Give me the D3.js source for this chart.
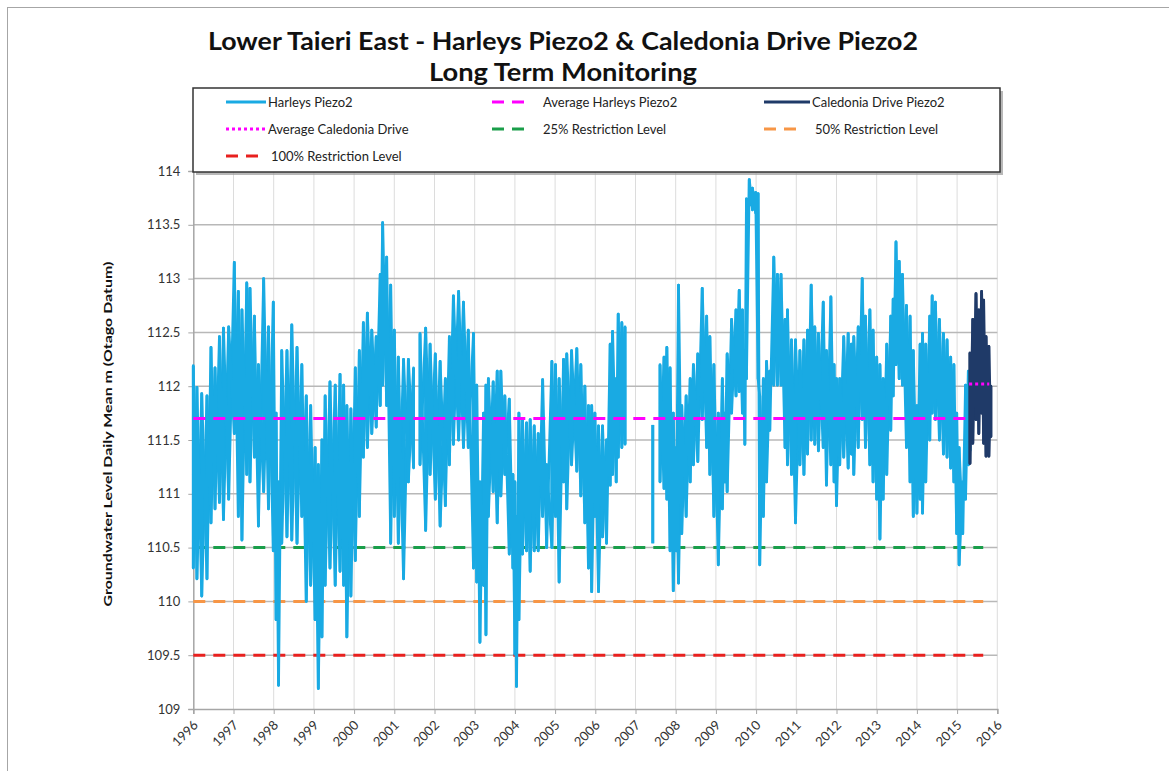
<!DOCTYPE html>
<html>
<head>
<meta charset="utf-8">
<script src="https://cdn.jsdelivr.net/npm/d3@7"></script>
<style>
  body { margin: 0; background: #fff; }
  text { font-family: Lato, "Open Sans", sans-serif; }
</style>
</head>
<body>
<div id="chart"></div>
<script>
'use strict';

var harleysYear = [
  1996.00, 1996.09, 1996.21, 1996.34, 1996.44, 1996.54, 1996.65, 1996.75, 1996.88,
  1997.02, 1997.12, 1997.21, 1997.33, 1997.41, 1997.52, 1997.62, 1997.75, 1997.87, 1997.99,
  1998.06, 1998.12, 1998.20, 1998.33, 1998.45, 1998.58, 1998.70, 1998.81, 1998.92,
  1999.03, 1999.11, 1999.20, 1999.28, 1999.40, 1999.53, 1999.65, 1999.74, 1999.82, 1999.92,
  2000.03, 2000.13, 2000.23, 2000.33, 2000.44, 2000.55, 2000.65, 2000.71, 2000.81, 2000.91,
  2001.00, 2001.10, 2001.23, 2001.35, 2001.48, 2001.64, 2001.78, 2001.89,
  2002.02, 2002.14, 2002.27, 2002.37, 2002.47, 2002.60, 2002.72, 2002.84, 2002.97,
  2003.05, 2003.13, 2003.22, 2003.28, 2003.34, 2003.46, 2003.56, 2003.65, 2003.75, 2003.86, 2003.95,
  2004.00, 2004.04, 2004.10, 2004.19, 2004.29, 2004.38, 2004.48, 2004.58, 2004.69, 2004.79, 2004.92,
  2005.01, 2005.10, 2005.21, 2005.29, 2005.41, 2005.54, 2005.64, 2005.74, 2005.83, 2005.91, 2005.99,
  2006.08, 2006.18, 2006.28, 2006.37, 2006.43, 2006.52, 2006.57, 2006.66, 2006.74,
  2007.43,
  2007.61, 2007.71, 2007.78, 2007.86, 2007.94,
  2008.01, 2008.07, 2008.15, 2008.26, 2008.36, 2008.44, 2008.55, 2008.66, 2008.77, 2008.85, 2008.95,
  2009.06, 2009.16, 2009.22, 2009.28, 2009.39, 2009.50, 2009.58, 2009.66, 2009.72, 2009.76, 2009.83, 2009.91, 2009.99,
  2010.05, 2010.09, 2010.18, 2010.26, 2010.34, 2010.44, 2010.53, 2010.62, 2010.72, 2010.78, 2010.88, 2010.98,
  2011.09, 2011.19, 2011.28, 2011.37, 2011.46, 2011.55, 2011.67, 2011.75, 2011.86, 2011.94,
  2012.00, 2012.08, 2012.18, 2012.29, 2012.37, 2012.43, 2012.54, 2012.64, 2012.72, 2012.83, 2012.91,
  2013.00, 2013.08, 2013.16, 2013.25, 2013.35, 2013.41, 2013.48, 2013.56, 2013.64, 2013.74, 2013.83, 2013.91,
  2014.00, 2014.08, 2014.14, 2014.22, 2014.32, 2014.38, 2014.46, 2014.56, 2014.66, 2014.75, 2014.84, 2014.92,
  2014.99, 2015.05, 2015.14, 2015.21, 2015.28, 2015.32
];
var harleysHigh = [
  112.19, 111.99, 111.93, 111.91, 112.36, 112.17, 112.46, 112.54, 112.55,
  113.15, 112.88, 112.71, 112.96, 112.91, 112.65, 112.20, 113.00, 112.55, 112.78,
  111.75, 111.11, 112.33, 112.33, 112.57, 112.36, 112.20, 111.91, 111.82,
  111.43, 111.27, 111.50, 111.91, 112.04, 112.01, 112.11, 112.01, 111.82, 111.79,
  112.17, 112.33, 112.59, 112.68, 112.52, 112.46, 113.04, 113.52, 113.20, 112.94,
  112.52, 112.27, 112.25, 112.25, 112.17, 112.49, 112.54, 112.39,
  112.30, 112.23, 112.07, 112.46, 112.84, 112.88, 112.78, 112.52, 112.49,
  112.01, 111.11, 111.75, 112.01, 112.07, 112.04, 112.14, 112.14, 111.91, 111.88, 111.18,
  111.11, 110.79, 111.75, 111.69, 111.66, 111.69, 111.63, 111.56, 112.06, 111.27, 112.23,
  112.20, 112.07, 112.25, 112.30, 112.33, 112.35, 112.20, 112.00, 111.82, 111.82, 111.75,
  111.63, 111.63, 111.50, 112.39, 112.51, 112.07, 112.67, 112.59, 112.55,
  111.64,
  112.20, 112.27, 112.36, 112.17, 111.75,
  111.43, 112.94, 111.82, 111.91, 112.07, 112.20, 112.30, 112.91, 112.65, 112.46, 112.20,
  111.75, 112.07, 111.75, 112.30, 112.62, 112.71, 112.89, 112.71, 112.33, 113.74, 113.92, 113.84, 113.80,
  113.79, 111.91, 112.07, 112.23, 112.14, 113.20, 113.04, 113.04, 112.62, 112.71, 112.43, 112.43,
  112.33, 112.43, 112.52, 112.94, 112.55, 112.49, 112.78, 112.33, 112.83, 112.20,
  112.07, 112.07, 112.46, 112.49, 112.39, 112.46, 112.55, 113.00, 112.65, 112.71, 112.52,
  112.27, 112.20, 112.07, 112.39, 112.65, 112.81, 113.34, 113.16, 113.04, 112.75, 112.65, 112.33,
  111.82, 112.39, 112.49, 112.39, 112.65, 112.84, 112.78, 112.62, 112.49, 112.43, 112.27, 112.20,
  111.75, 111.43, 111.11, 112.01, 112.14, 112.10
];
var harleysLow = [
  110.31, 110.21, 110.05, 110.21, 110.73, 110.86, 110.92, 110.76, 110.95,
  111.56, 110.79, 110.57, 111.18, 111.11, 111.34, 110.70, 111.02, 110.86, 110.47,
  109.83, 109.22, 110.54, 110.60, 110.57, 110.54, 110.79, 110.00, 110.15,
  109.83, 109.19, 109.67, 110.15, 110.31, 110.15, 110.28, 110.15, 109.67, 110.05,
  110.38, 110.79, 111.34, 111.43, 111.56, 111.62, 111.82, 112.01, 111.82, 110.54,
  110.79, 110.54, 110.21, 111.11, 111.24, 111.27, 110.66, 111.18,
  110.95, 110.70, 110.89, 111.27, 111.46, 111.50, 111.43, 111.43, 110.31,
  110.18, 109.62, 110.15, 109.69, 110.79, 111.02, 110.73, 110.98, 111.18, 110.44, 110.31,
  109.51, 109.21, 109.83, 110.44, 110.47, 110.28, 110.47, 110.47, 110.79, 110.50, 110.50,
  110.79, 110.18, 111.11, 110.86, 111.27, 111.21, 110.98, 110.73, 110.31, 110.09, 110.79,
  110.09, 110.60, 110.54, 111.08, 111.18, 111.11, 111.34, 111.43, 111.46,
  110.54,
  111.11, 111.05, 110.95, 110.47, 110.10,
  110.47, 110.17, 110.63, 110.79, 111.11, 111.27, 111.30, 111.69, 111.43, 111.18, 110.79,
  110.34, 110.86, 111.11, 111.02, 111.75, 111.91, 111.95, 111.75, 111.46, 112.07, 113.68, 113.64, 113.61,
  112.07, 110.34, 110.79, 111.11, 111.59, 112.01, 112.01, 112.01, 111.43, 111.27, 111.18, 110.73,
  111.27, 111.18, 111.37, 111.50, 111.46, 111.40, 111.43, 111.08, 111.27, 111.11,
  110.89, 111.27, 111.34, 111.24, 111.37, 111.18, 111.43, 111.69, 111.43, 111.27, 111.11,
  110.95, 110.58, 110.95, 111.18, 111.59, 111.91, 112.20, 112.07, 112.01, 111.43, 111.11, 110.79,
  110.82, 110.95, 110.82, 111.11, 111.50, 111.75, 111.69, 111.50, 111.37, 111.34, 111.24, 111.11,
  110.63, 110.34, 110.63, 110.95, 111.27, 111.40
];

// Caledonia Drive Piezo2 (starts mid 2015)
var caledoniaYear = [2015.32, 2015.39, 2015.47, 2015.54, 2015.61, 2015.66, 2015.72, 2015.79, 2015.84];
var caledoniaHigh = [112.31, 112.62, 112.86, 112.71, 112.88, 112.80, 112.46, 112.37, 112.00];
var caledoniaLow  = [111.28, 111.47, 111.69, 111.56, 111.75, 111.47, 111.35, 111.35, 111.53];

// reference levels: [value, start year, end year]
var avgHarleys = [111.70, 1996.0, 2015.28];
var avgCaledonia = [112.02, 2015.30, 2015.80];
var restriction25 = [110.5, 1996.0, 2015.65];
var restriction50 = [110.0, 1996.0, 2015.65];
var restriction100 = [109.5, 1996.0, 2015.65];

var yearTicks = d3.range(1996, 2017);
var levelTicks = [109, 109.5, 110, 110.5, 111, 111.5, 112, 112.5, 113, 113.5, 114];

var legendItems = [
  { label: 'Harleys Piezo2', color: '#19aae3', dash: null, w: 3, col: 0, row: 0 },
  { label: 'Average Harleys Piezo2', color: '#ff00ff', dash: '12,8', w: 3, col: 1, row: 0 },
  { label: 'Caledonia Drive Piezo2', color: '#1f3a68', dash: null, w: 3, col: 2, row: 0 },
  { label: 'Average Caledonia Drive', color: '#ff00ff', dash: '3,3', w: 3, col: 0, row: 1 },
  { label: '25% Restriction Level', color: '#1a9e4a', dash: '12,8', w: 3, col: 1, row: 1 },
  { label: '50% Restriction Level', color: '#f79646', dash: '12,8', w: 3, col: 2, row: 1 },
  { label: '100% Restriction Level', color: '#e8201e', dash: '12,8', w: 3, col: 0, row: 2 }
];

var width = 1169, height = 771;
var svg = d3.select('#chart').append('svg')
    .attr('width', width)
    .attr('height', height);

// chart frame
svg.append('rect')
    .attr('x', 7.5).attr('y', 7.5)
    .attr('width', width).attr('height', height)
    .attr('fill', 'none').attr('stroke', '#a6a6a6');

var x = d3.scaleLinear().domain([1996, 2016]).range([193.3, 997.3]);
var y = d3.scaleLinear().domain([109, 114]).range([709, 171]);

// gridlines
svg.append('g').selectAll('line').data(yearTicks.slice(1)).enter().append('line')
    .attr('x1', function (d) { return x(d); }).attr('x2', function (d) { return x(d); })
    .attr('y1', y(114)).attr('y2', y(109))
    .attr('stroke', '#dcdcdc').attr('stroke-width', 1);
svg.append('g').selectAll('line').data(levelTicks.slice(1)).enter().append('line')
    .attr('x1', x(1996)).attr('x2', x(2016))
    .attr('y1', function (d) { return y(d); }).attr('y2', function (d) { return y(d); })
    .attr('stroke', '#b8b8b8').attr('stroke-width', 1.5);

// axes
var yAxis = svg.append('g')
    .attr('transform', 'translate(' + x(1996) + ',0)')
    .call(d3.axisLeft(y).tickValues(levelTicks).tickSize(5).tickPadding(8)
        .tickFormat(function (d) { return String(+d.toFixed(1)); }));
var xAxis = svg.append('g')
    .attr('transform', 'translate(0,' + y(109) + ')')
    .call(d3.axisBottom(x).tickValues(yearTicks).tickSize(5).tickFormat(d3.format('d')));
[yAxis, xAxis].forEach(function (ax) {
    ax.select('.domain').attr('stroke', '#a6a6a6').attr('stroke-width', 1.5);
    ax.selectAll('.tick line').attr('stroke', '#a6a6a6');
    ax.selectAll('.tick text').attr('fill', '#333').style('font-size', '13px');
});
xAxis.selectAll('.tick text')
    .attr('text-anchor', 'end')
    .attr('dy', null)
    .attr('y', 0)
    .attr('transform', 'translate(5,17) rotate(-45)');

// reference levels
function drawLevel(level, color, dash, w) {
    svg.append('line')
        .attr('x1', x(level[1])).attr('x2', x(level[2]))
        .attr('y1', y(level[0])).attr('y2', y(level[0]))
        .attr('stroke', color).attr('stroke-width', w)
        .attr('stroke-dasharray', dash);
}
drawLevel(restriction25, '#1a9e4a', '12,8', 3);
drawLevel(restriction50, '#f79646', '12,8', 3);
drawLevel(restriction100, '#e8201e', '12,8', 3);

// series drawn as crossing high/low zig-zags per sample, broken where the record has gaps
function seriesSegments(years, hi, lo, flip) {
    var segs = [], cur = [];
    years.forEach(function (t, i) {
        if (i > 0 && t - years[i - 1] > 0.16) { segs.push(cur); cur = []; }
        if (flip) {
            cur.push([t, lo[i]]);
            cur.push([t, hi[i]]);
        } else {
            cur.push([t, hi[i]]);
            cur.push([t, lo[i]]);
        }
    });
    segs.push(cur);
    return segs;
}
var line = d3.line()
    .x(function (d) { return x(d[0]); })
    .y(function (d) { return y(d[1]); });

function drawSeries(years, hi, lo, color) {
    var g = svg.append('g');
    [false, true].forEach(function (flip) {
        g.selectAll('path.f' + flip)
            .data(seriesSegments(years, hi, lo, flip)).enter().append('path')
            .attr('class', 'f' + flip)
            .attr('d', line)
            .attr('fill', 'none').attr('stroke', color)
            .attr('stroke-width', 2.8).attr('stroke-linejoin', 'round');
    });
}
drawSeries(harleysYear, harleysHigh, harleysLow, '#19aae3');
drawLevel(avgHarleys, '#ff00ff', '12,8', 3);
drawSeries(caledoniaYear, caledoniaHigh, caledoniaLow, '#1f3a68');
drawLevel(avgCaledonia, '#ff00ff', '3,3', 3);

// title
svg.append('text')
    .attr('x', 563).attr('y', 50)
    .attr('text-anchor', 'middle')
    .attr('textLength', 710).attr('lengthAdjust', 'spacingAndGlyphs')
    .style('font-size', '24px').style('font-weight', 'bold').attr('fill', '#111')
    .text('Lower Taieri East - Harleys Piezo2 & Caledonia Drive Piezo2');
svg.append('text')
    .attr('x', 563).attr('y', 81)
    .attr('text-anchor', 'middle')
    .attr('textLength', 268).attr('lengthAdjust', 'spacingAndGlyphs')
    .style('font-size', '24px').style('font-weight', 'bold').attr('fill', '#111')
    .text('Long Term Monitoring');

// y axis title
svg.append('text')
    .attr('transform', 'translate(112,' + 434 + ') rotate(-90)')
    .attr('text-anchor', 'middle')
    .attr('textLength', 345).attr('lengthAdjust', 'spacingAndGlyphs')
    .style('font-size', '12px').style('font-weight', 'bold').attr('fill', '#111')
    .text('Groundwater Level Daily Mean m (Otago Datum)');

// legend
var legend = svg.append('g');
legend.append('rect')
    .attr('x', 196).attr('y', 91).attr('width', 807).attr('height', 84)
    .attr('fill', '#9a9a9a').attr('opacity', 0.7);
legend.append('rect')
    .attr('x', 193).attr('y', 88).attr('width', 807).attr('height', 84)
    .attr('fill', '#fff').attr('stroke', '#333').attr('stroke-width', 1.5);

var colX = [[226, 266], [492, 538], [764, 810]];
var rowY = [102, 129, 156];
var item = legend.selectAll('g.item').data(legendItems).enter().append('g').attr('class', 'item');
item.append('line')
    .attr('x1', function (d) { return colX[d.col][0]; })
    .attr('x2', function (d) { return colX[d.col][1] - (d.dash === '12,8' ? 8 : 0); })
    .attr('y1', function (d) { return rowY[d.row]; })
    .attr('y2', function (d) { return rowY[d.row]; })
    .attr('stroke', function (d) { return d.color; })
    .attr('stroke-width', function (d) { return d.w; })
    .attr('stroke-dasharray', function (d) { return d.dash; });
item.append('text')
    .attr('x', function (d) { return colX[d.col][1] + (d.dash === '12,8' ? 5 : 2); })
    .attr('y', function (d) { return rowY[d.row] + 4.5; })
    .style('font-size', '13px').attr('fill', '#222')
    .text(function (d) { return d.label; });
</script>
</body>
</html>
